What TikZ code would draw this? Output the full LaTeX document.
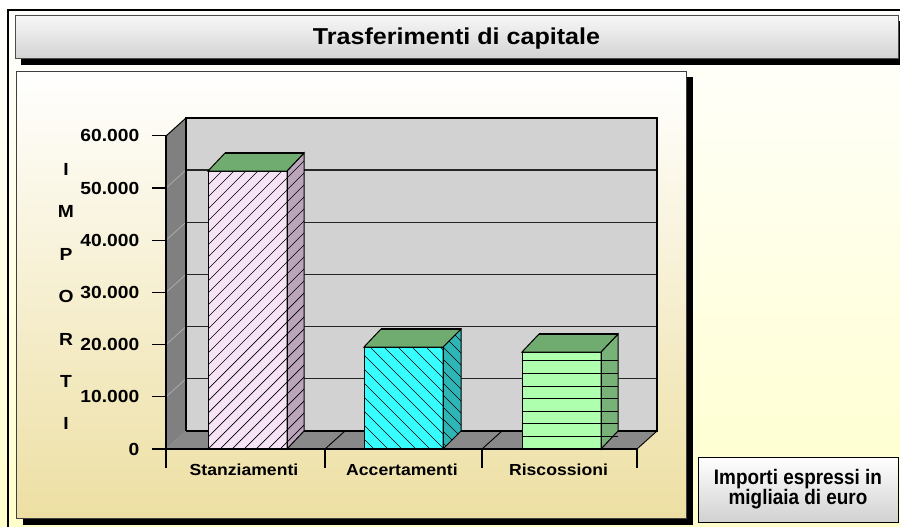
\documentclass[tikz,border=0pt]{standalone}
\usepackage{fontspec}
\setmainfont{Liberation Sans}
\newfontfamily\titlefont[FakeStretch=1.09]{Liberation Sans}
\newfontfamily\labfont[FakeStretch=1.1]{Liberation Sans}
\newfontfamily\notefont[FakeStretch=0.9]{Liberation Sans}
\definecolor{bgyellow}{HTML}{FFFFCC}
\definecolor{tanc}{HTML}{EDDFA3}
\definecolor{wallgray}{HTML}{808080}
\definecolor{floorgray}{HTML}{898989}
\definecolor{backgray}{HTML}{D2D2D2}
\definecolor{sidegrid}{HTML}{ABABAB}
\definecolor{pinkfront}{HTML}{F6E3F6}
\definecolor{pinkside}{HTML}{BAA5BA}
\definecolor{greentop}{HTML}{70AC70}
\definecolor{cyanfront}{HTML}{38FFFF}
\definecolor{cyanside}{HTML}{2EB6B6}
\definecolor{lgfront}{HTML}{AEFFAE}
\definecolor{lgside}{HTML}{78B278}
\tikzset{
  titlebar/.style={top color=white!97!black, bottom color=black!17, draw=black!70, line width=0.8pt},
  titletext/.style={font=\titlefont\fontsize{23}{26}\selectfont\bfseries, inner sep=0pt},
  panel/.style={top color=white, bottom color=tanc, draw=black!75, line width=0.8pt},
  lab/.style={font=\labfont\fontsize{16}{18}\selectfont\bfseries, inner sep=0pt},
  biglab/.style={font=\labfont\fontsize{17.5}{18}\selectfont\bfseries, inner sep=0pt},
  ylab/.style={biglab, anchor=east},
  catlab/.style={lab, anchor=base},
  axisline/.style={black, line width=1.2pt},
  gridline/.style={black!85, line width=1.1pt},
  edge/.style={draw=black, line width=1pt},
  hatch/.style={black, line width=0.7pt},
  notebox/.style={top color=white, bottom color=black!18, draw=black, line width=1pt,
    minimum width=200pt, minimum height=65pt, inner sep=0pt, align=center,
    font=\notefont\fontsize{21}{20}\selectfont\bfseries}
}
\begin{document}
\begin{tikzpicture}[x=1pt,y=-1pt]
\useasboundingbox (0,0) rectangle (900,527);
\clip (0,0) rectangle (900,527);
% background
\shade[top color=white, bottom color=bgyellow] (0,0) rectangle (900,527);
\draw[black, line width=1.3pt] (8,600) -- (8,10) -- (950,10);
% title bar
\fill[black] (21,21) rectangle (910,65);
\shade[titlebar] (15,15) rectangle (898,58);
\draw[black!70, line width=0.8pt] (15,15) rectangle (898,58);
\node[titletext, anchor=base] (title) at (456.5,44.3) {Trasferimenti di capitale};
% chart panel
\fill[black] (23,77) rectangle (693,525);
\shade[panel] (16,71) rectangle (686,518);
\draw[black!75, line width=0.8pt] (16,71) rectangle (686,518);
% left wall and floor
\fill[wallgray] (166,449) -- (166,136) -- (186,118) -- (186,431) -- cycle;
\fill[floorgray] (166,449) -- (186,431) -- (657,431) -- (637,449) -- cycle;
% back wall
\fill[backgray] (186,118) rectangle (657,431);
\foreach \k in {1,...,5} {
  \draw[gridline] (186,431-52.2*\k) -- (657,431-52.2*\k);
  \draw[sidegrid, line width=0.8pt] (166,449-52.2*\k) -- (186,431-52.2*\k);
}
\draw[black, line width=1.3pt] (186,431) -- (186,118) -- (657,118) -- (657,431) -- (186,431);
\draw[black, line width=1pt] (166,136) -- (186,118);
% floor separators
\draw[black, line width=0.9pt] (325,449) -- (345,431);
\draw[black, line width=0.9pt] (482,449) -- (502,431);
\draw[black, line width=0.9pt] (637,449) -- (657,431);
% axes
\draw[axisline] (166,136) -- (166,468);
\draw[axisline] (152,449) -- (637,449);
\foreach \k in {0,...,6} {
  \draw[axisline] (152,449-52.2*\k) -- (166,449-52.2*\k);
}
\foreach \x in {325,482,637} {
  \draw[axisline] (\x,449) -- (\x,468);
}
% ---------- bar 1: Stanziamenti ----------
\fill[pinkfront] (208,171) rectangle (287,449);
\begin{scope}
  \clip (208,171) rectangle (287,449);
  \foreach \i in {-300,-288,...,100} \draw[hatch] (208+\i,449) -- ++(300,-300);
\end{scope}
\fill[pinkside] (287,449) -- (287,171) -- (304,153) -- (304,431) -- cycle;
\begin{scope}
  \clip (287,449) -- (287,171) -- (304,153) -- (304,431) -- cycle;
  \foreach \i in {0,12,...,320} \draw[hatch] (280,449-\i) -- ++(30,-30);
\end{scope}
\draw[edge] (287,449) -- (287,171) -- (304,153) -- (304,431) -- cycle;
\draw[edge] (208,171) rectangle (287,449);
\draw[edge, fill=greentop] (208,171) -- (225,153) -- (304,153) -- (287,171) -- cycle;
\draw[black, line width=2pt] (225,153) -- (304,153);
% ---------- bar 2: Accertamenti ----------
\fill[cyanfront] (364,347) rectangle (443,449);
\begin{scope}
  \clip (364,347) rectangle (443,449);
  \foreach \i in {-120,-106,...,100} \draw[hatch] (364+\i,347) -- ++(130,130);
\end{scope}
\fill[cyanside] (443,449) -- (443,347) -- (461,329) -- (461,431) -- cycle;
\begin{scope}
  \clip (443,449) -- (443,347) -- (461,329) -- (461,431) -- cycle;
  \foreach \i in {0,12,...,140} \draw[hatch] (440,320+\i) -- ++(30,30);
\end{scope}
\draw[edge] (443,449) -- (443,347) -- (461,329) -- (461,431) -- cycle;
\draw[edge] (364,347) rectangle (443,449);
\draw[edge, fill=greentop] (364,347) -- (381,329) -- (461,329) -- (443,347) -- cycle;
\draw[black, line width=2pt] (381,329) -- (461,329);
% ---------- bar 3: Riscossioni ----------
\fill[lgfront] (522,352) rectangle (601,449);
\fill[lgside] (601,449) -- (601,352) -- (618,334) -- (618,431) -- cycle;
\foreach \k in {1,...,7} {
  \draw[black, line width=0.9pt] (522,449-12.6*\k) -- (601,449-12.6*\k);
  \draw[black, line width=0.9pt] (601,449-12.6*\k) -- (618,449-12.6*\k);
}
\draw[edge] (601,449) -- (601,352) -- (618,334) -- (618,431) -- cycle;
\draw[edge] (522,352) rectangle (601,449);
\draw[edge, fill=greentop] (522,352) -- (539,334) -- (618,334) -- (601,352) -- cycle;
\draw[black, line width=2pt] (539,334) -- (618,334);
% redraw axis front
\draw[axisline] (152,449) -- (637,449);
% y labels
\foreach \v [count=\k from 0] in {0,10.000,20.000,30.000,40.000,50.000,60.000} {
  \node[ylab] (yl\k) at (139.5,449-52.2*\k) {\v};
}
% vertical title
\foreach \c [count=\n from 0] in {I,M,P,O,R,T,I} {
  \node[biglab] (vt\n) at (66,169.5+42.4*\n) {\c};
}
% category labels
\node[catlab] (c1) at (244,475) {Stanziamenti};
\node[catlab] (c2) at (402,475) {Accertamenti};
\node[catlab] (c3) at (558.5,475) {Riscossioni};
% note box
\node[notebox] (note) at (798,489.5) {Importi espressi in\\migliaia di euro};
\end{tikzpicture}
\end{document}
